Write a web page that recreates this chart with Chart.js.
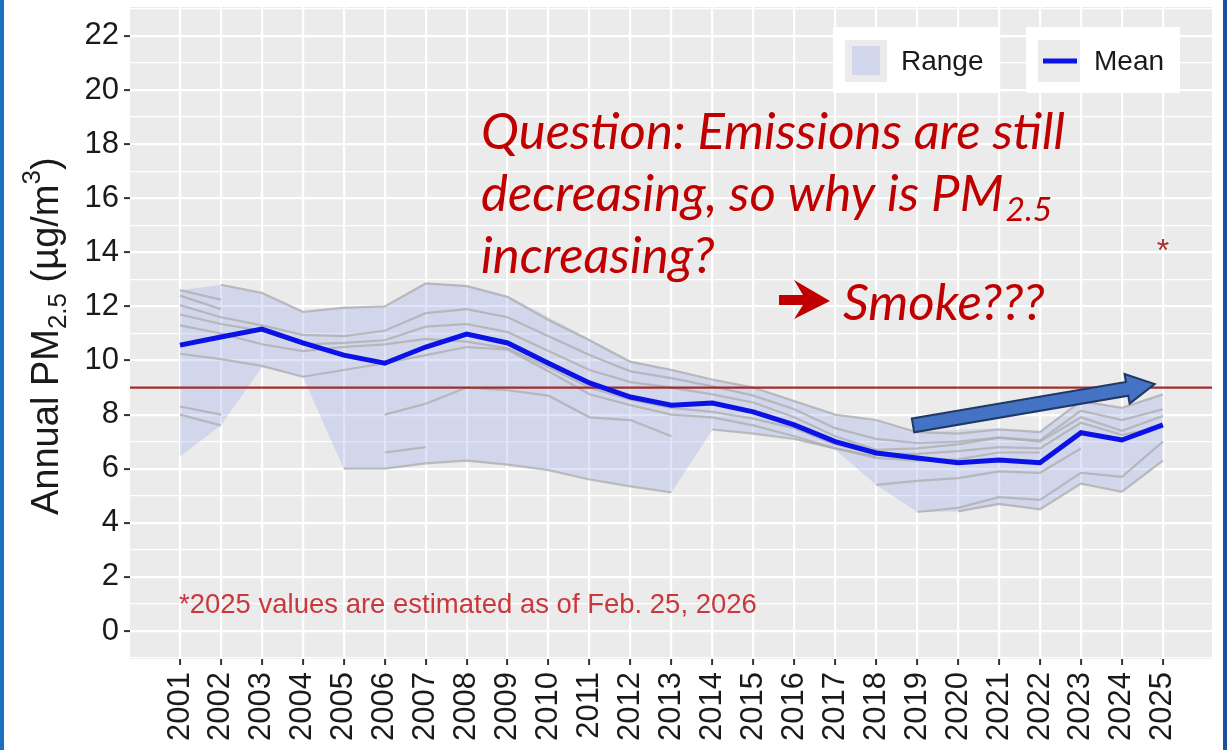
<!DOCTYPE html>
<html>
<head>
<meta charset="utf-8">
<script src="https://cdn.jsdelivr.net/npm/chart.js@4/dist/chart.umd.min.js"></script>
<style>
    html, body { margin: 0; padding: 0; background: #fff; }
    #wrap { position: relative; width: 1227px; height: 750px; overflow: hidden; background: #fff; }
    #wrap::before { content: ""; position: absolute; left: 0; top: 0; width: 4px; height: 750px; background: #1b6ec2; }
    #wrap::after { content: ""; position: absolute; right: 0; top: 0; width: 4px; height: 750px; background: #1f4f9c; }
    canvas { display: block; }
</style>
</head>
<body>
<div id="wrap"><canvas id="pm" width="1227" height="750"></canvas></div>
<script>
// years and values
const years = [2001, 2002, 2003, 2004, 2005, 2006, 2007, 2008, 2009, 2010, 2011, 2012, 2013,
    2014, 2015, 2016, 2017, 2018, 2019, 2020, 2021, 2022, 2023, 2024, 2025];
const meanPM = [10.57, 10.87, 11.16, 10.65, 10.2, 9.9, 10.5, 10.98, 10.65, 9.9, 9.17, 8.65, 8.35,
    8.43, 8.1, 7.62, 7.0, 6.58, 6.4, 6.22, 6.32, 6.22, 7.33, 7.06, 7.62];
const rangeHigh = [12.6, 12.8, 12.5, 11.8, 12.0, 12.0, 12.87, 12.8, 12.4, 11.6, 10.8, 10.0, 9.7,
    9.3, 9.0, 8.5, 8.0, 7.8, 7.35, 7.45, 7.5, 7.4, 8.55, 8.25, 8.75];
const rangeLow = [6.45, 7.6, 9.75, 9.4, 6.0, 6.0, 6.2, 6.3, 6.15, 5.95, 5.6, 5.35, 5.12,
    7.43, 7.3, 7.1, 6.7, 5.4, 4.4, 4.42, 4.65, 4.5, 5.45, 5.15, 6.28];

// individual monitoring sites (null = no data)
const siteA = [null, 12.8, 12.5, 11.8, 11.95, 12.0, 12.85, 12.75, 12.35, 11.5, 10.75, 9.95, 9.65,
    9.3, 9.0, 8.5, 8.0, 7.8, 7.35, 7.3, 7.45, 7.35, 8.5, 8.25, 8.75];
const siteB = [12.6, 12.25, null, null, null, null, null, null, null, null, null, null, null,
    null, null, null, null, null, null, null, null, null, null, null, null];
const siteC = [12.4, 11.9, null, null, null, null, null, null, null, null, null, null, null,
    null, null, null, null, null, null, null, null, null, null, null, null];
const siteD = [12.05, 11.6, 11.3, 10.95, 10.9, 11.1, 11.75, 11.9, 11.6, 10.9, 10.2, 9.6, 9.35,
    9.05, 8.7, 8.2, 7.5, 7.1, 6.95, 7.0, 7.15, 7.05, 8.15, 7.8, 8.2];
const siteE = [11.7, 11.35, 11.1, 10.6, 10.65, 10.75, 11.25, 11.35, 11.05, 10.35, 9.65, 9.2, 9.0,
    8.75, 8.45, 7.9, 7.2, 6.7, 6.75, 6.9, 7.15, 7.0, 7.9, 7.4, 7.95];
const siteF = [11.3, 11.0, 10.6, 10.35, 10.5, 10.6, 10.8, 10.7, 10.45, 9.75, 9.0, 8.55, 8.25,
    8.1, 7.85, 7.5, 6.9, 6.55, 6.55, 6.65, 6.8, 6.75, 7.7, 7.25, 7.55];
const siteG = [10.25, 10.05, 9.8, 9.4, 9.65, 9.9, 10.2, 10.5, 10.4, 9.6, 8.75, 8.35, 8.0,
    7.9, 7.6, 7.2, 6.75, 6.4, 6.3, 6.35, 6.6, 6.6, null, null, null];
const siteH = [8.3, 8.0, null, null, null, null, null, null, null, null, null, null, null,
    null, null, null, null, null, null, null, null, null, null, null, null];
const siteI = [8.0, 7.6, null, null, null, null, null, null, null, null, null, null, null,
    null, null, null, null, null, null, null, null, null, null, null, null];
const siteJ = [null, null, null, null, null, 8.0, 8.4, 9.0, 8.9, 8.7, 7.9, 7.8, 7.2,
    null, null, null, null, null, null, null, null, null, null, null, null];
const siteK = [null, null, null, null, null, 6.6, 6.8, null, null, null, null, null, null,
    null, null, null, null, null, null, null, null, null, null, null, null];
const siteL = [null, null, null, null, 6.0, 6.0, 6.2, 6.3, 6.15, 5.95, 5.6, 5.35, 5.12,
    null, null, null, null, null, null, null, null, null, null, null, null];
const siteM = [null, null, null, null, null, null, null, null, null, null, null, null, null,
    7.45, 7.3, 7.1, 6.75, 6.45, null, null, null, null, null, null, null];
const siteN = [null, null, null, null, null, null, null, null, null, null, null, null, null,
    null, null, null, null, 5.4, 5.55, 5.65, 5.9, 5.85, 6.75, null, null];
const siteO = [null, null, null, null, null, null, null, null, null, null, null, null, null,
    null, null, null, null, null, 4.4, 4.55, 4.95, 4.85, 5.85, 5.7, 7.0];
const siteP = [null, null, null, null, null, null, null, null, null, null, null, null, null,
    null, null, null, null, null, null, 4.42, 4.7, 4.5, 5.45, 5.15, 6.3];
const sites = [siteA, siteB, siteC, siteD, siteE, siteF, siteG, siteH, siteI, siteJ, siteK,
    siteL, siteM, siteN, siteO, siteP];

const yTicks = [0, 2, 4, 6, 8, 10, 12, 14, 16, 18, 20, 22];
const threshold = 9;
const estimatedYear = 2025;
const estimatedMark = 14.2;
// trend arrow, in data units: [year, value]
const trendFrom = [2018.9, 7.6];
const trendTo = [2024.8, 9.13];

const xMin = 1999.78, xMax = 2026.2;
const yMin = -1.035, yMax = 23.07;

const pts = arr => years.map((yr, i) => ({ x: yr, y: arr[i] }));

const bandFill = "rgba(155, 172, 232, 0.32)";
const meanColor = "#0b12e6";

const datasets = [
    { label: "Mean", data: pts(meanPM), borderColor: meanColor, borderWidth: 5, pointRadius: 0, order: 0, fill: false },
    { label: "threshold", data: [{ x: xMin, y: threshold }, { x: xMax, y: threshold }],
      borderColor: "#a12c2c", borderWidth: 2.2, pointRadius: 0, order: 1, fill: false },
    ...sites.map(s => ({ label: "site", data: pts(s), borderColor: "rgba(172,172,172,0.75)", borderWidth: 2.2,
        pointRadius: 0, order: 2, fill: false, spanGaps: false })),
    { label: "low", data: pts(rangeLow), borderWidth: 0, borderColor: "transparent", pointRadius: 0, order: 3, fill: false },
    { label: "Range", data: pts(rangeHigh), borderWidth: 0, borderColor: "transparent", pointRadius: 0, order: 3,
      fill: "-1", backgroundColor: bandFill }
];

const panelBg = {
    id: "panelBg",
    beforeDraw(chart) {
        const { ctx, chartArea: a } = chart;
        ctx.save();
        ctx.fillStyle = "#ebebeb";
        ctx.fillRect(a.left, a.top, a.right - a.left, a.bottom - a.top);
        ctx.restore();
    }
};

function fitSize(ctx, text, style, family, width) {
    ctx.font = `${style} 100px ${family}`;
    return 100 * width / ctx.measureText(text).width;
}

const extras = {
    id: "extras",
    afterDatasetsDraw(chart) {
        const { ctx, scales: { x, y } } = chart;
        ctx.save();

        // footnote
        const note = "*2025 values are estimated as of Feb. 25, 2026";
        const ns = fitSize(ctx, note, "", "'Liberation Sans'", 578);
        ctx.font = `${ns}px 'Liberation Sans'`;
        ctx.fillStyle = "#c8383c";
        ctx.textBaseline = "alphabetic";
        ctx.fillText(note, 179, 613);

        // asterisk above 2025
        ctx.font = "32px 'Liberation Sans'";
        ctx.fillStyle = "#a83030";
        ctx.textAlign = "center";
        ctx.fillText("*", x.getPixelForValue(estimatedYear), y.getPixelForValue(estimatedMark) + 14);
        ctx.textAlign = "left";

        // trend arrow
        const x0 = x.getPixelForValue(trendFrom[0]), y0 = y.getPixelForValue(trendFrom[1]);
        const x1 = x.getPixelForValue(trendTo[0]), y1 = y.getPixelForValue(trendTo[1]);
        const len = Math.hypot(x1 - x0, y1 - y0);
        const ang = Math.atan2(y1 - y0, x1 - x0);
        const sw = 7, hw = 15, hl = 28;
        ctx.translate(x0, y0);
        ctx.rotate(ang);
        ctx.beginPath();
        ctx.moveTo(0, -sw);
        ctx.lineTo(len - hl, -sw);
        ctx.lineTo(len - hl, -hw);
        ctx.lineTo(len, 0);
        ctx.lineTo(len - hl, hw);
        ctx.lineTo(len - hl, sw);
        ctx.lineTo(0, sw);
        ctx.closePath();
        ctx.fillStyle = "#4472c4";
        ctx.fill();
        ctx.lineWidth = 2;
        ctx.strokeStyle = "#1f3864";
        ctx.stroke();
        ctx.restore();
    },
    afterDraw(chart) {
        const { ctx } = chart;
        ctx.save();

        // question text
        const fam = "Lato, 'Open Sans', sans-serif";
        const qs = fitSize(ctx, "Question: Emissions are still", "italic", fam, 584);
        ctx.fillStyle = "#c00000";
        ctx.textBaseline = "alphabetic";
        ctx.font = `italic ${qs}px ${fam}`;
        ctx.fillText("Question: Emissions are still", 481, 149);
        const l2 = "decreasing, so why is PM";
        ctx.fillText(l2, 481, 211);
        const w2 = ctx.measureText(l2).width;
        ctx.font = `italic ${qs * 0.66}px ${fam}`;
        ctx.fillText("2.5", 481 + w2 + 2, 221);
        ctx.font = `italic ${qs}px ${fam}`;
        ctx.fillText("increasing?", 481, 273);
        ctx.fillText("Smoke???", 843, 320);

        // red arrow before "Smoke???"
        ctx.beginPath();
        ctx.moveTo(779, 295);
        ctx.lineTo(803, 295);
        ctx.lineTo(794, 280);
        ctx.lineTo(830, 301);
        ctx.lineTo(794, 319);
        ctx.lineTo(803, 305);
        ctx.lineTo(779, 305);
        ctx.closePath();
        ctx.fill();

        // legend
        ctx.fillStyle = "#ffffff";
        ctx.fillRect(833, 27, 165, 66);
        ctx.fillRect(1026, 27, 154, 66);
        ctx.fillStyle = "#ebebeb";
        ctx.fillRect(845, 40, 42, 42);
        ctx.fillRect(1038, 40, 42, 42);
        ctx.fillStyle = bandFill;
        ctx.fillRect(852, 46, 28, 29);
        ctx.strokeStyle = meanColor;
        ctx.lineWidth = 5;
        ctx.beginPath();
        ctx.moveTo(1043, 61);
        ctx.lineTo(1077, 61);
        ctx.stroke();
        ctx.fillStyle = "#1a1a1a";
        ctx.font = "28px 'Liberation Sans'";
        ctx.textBaseline = "middle";
        ctx.fillText("Range", 901, 62);
        ctx.fillText("Mean", 1094, 62);

        // y axis title with sub/superscript
        ctx.translate(58, 515);
        ctx.rotate(-Math.PI / 2);
        ctx.textBaseline = "alphabetic";
        const big = "38px 'Liberation Sans'", small = "26px 'Liberation Sans'";
        let cx = 0;
        const put = (t, f, dy) => {
            ctx.font = f;
            ctx.fillText(t, cx, dy);
            cx += ctx.measureText(t).width;
        };
        put("Annual PM", big, 0);
        put("2.5", small, 8);
        put(" (\u00b5g/m", big, 0);
        put("3", small, -18);
        put(")", big, 0);
        ctx.restore();
    }
};

new Chart(document.getElementById("pm"), {
    type: "line",
    data: { datasets },
    plugins: [panelBg, extras],
    options: {
        responsive: false,
        animation: false,
        events: [],
        layout: { padding: { left: 0, top: 7, right: 15, bottom: 0 } },
        plugins: { legend: { display: false }, tooltip: { enabled: false } },
        elements: { line: { tension: 0 } },
        scales: {
            x: {
                type: "linear",
                min: xMin,
                max: xMax,
                afterBuildTicks: s => { s.ticks = years.map(v => ({ value: v })); },
                afterFit: s => { s.height = 91; s.paddingLeft = 0; s.paddingRight = 0; },
                border: { display: false },
                grid: { color: "#ffffff", lineWidth: 2.2, tickColor: "#333333", tickLength: 6, tickWidth: 2 },
                ticks: {
                    autoSkip: false,
                    minRotation: 90,
                    maxRotation: 90,
                    padding: 7,
                    color: "#1a1a1a",
                    font: { family: "'Liberation Sans'", size: 31 },
                    callback: v => String(v)
                }
            },
            y: {
                type: "linear",
                min: yMin,
                max: yMax,
                afterBuildTicks: s => {
                    const t = [yTicks[0] - 1];
                    yTicks.forEach(v => { t.push(v, v + 1); });
                    s.ticks = t.map(v => ({ value: v }));
                },
                afterFit: s => { s.width = 130; s.paddingTop = 0; s.paddingBottom = 0; },
                border: { display: false },
                grid: {
                    color: "#ffffff",
                    lineWidth: c => (c.tick && yTicks.includes(c.tick.value)) ? 2.2 : 1.2,
                    tickColor: c => (c.tick && yTicks.includes(c.tick.value)) ? "#333333" : "rgba(0,0,0,0)",
                    tickLength: 6,
                    tickWidth: 2
                },
                ticks: {
                    autoSkip: false,
                    padding: 5,
                    color: "#1a1a1a",
                    font: { family: "'Liberation Sans'", size: 31 },
                    callback: v => yTicks.includes(v) ? String(v) : ""
                }
            }
        }
    }
});
</script>
</body>
</html>
